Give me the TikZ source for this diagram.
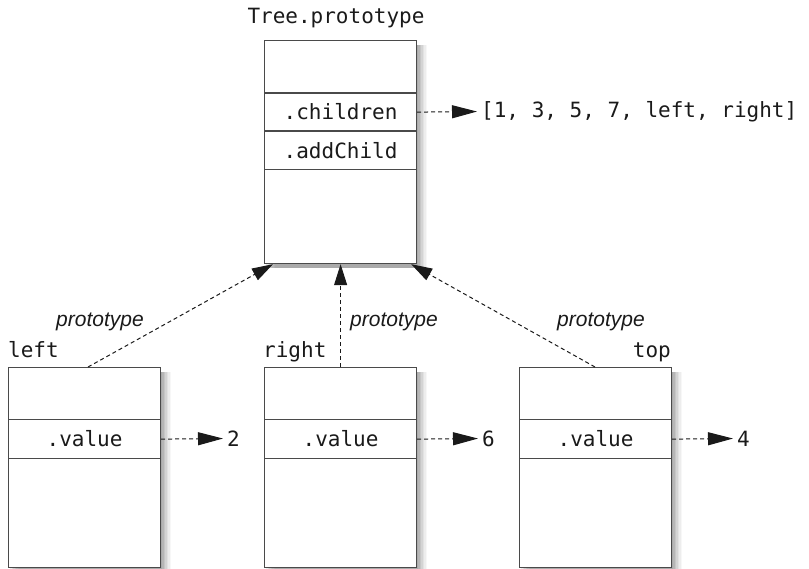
\documentclass[tikz,border=0pt]{standalone}
\usepackage{fontspec}
\setmainfont{Liberation Sans}
\setmonofont{DejaVu Sans Mono}
\usetikzlibrary{arrows.meta,calc,shadows}
\definecolor{linec}{HTML}{4A4A4A}
\definecolor{txtc}{HTML}{1A1A1A}
\tikzset{
  softshadow/.style={
    general shadow={fill=black,opacity=.07,shadow xshift=1.5pt,shadow yshift=-4pt},
    general shadow={fill=black,opacity=.07,shadow xshift=3pt,shadow yshift=-4pt},
    general shadow={fill=black,opacity=.07,shadow xshift=4.5pt,shadow yshift=-4pt},
    general shadow={fill=black,opacity=.06,shadow xshift=6pt,shadow yshift=-4pt},
    general shadow={fill=black,opacity=.05,shadow xshift=7.5pt,shadow yshift=-4pt},
    general shadow={fill=black,opacity=.04,shadow xshift=9pt,shadow yshift=-4pt},
    general shadow={fill=black,opacity=.03,shadow xshift=10.5pt,shadow yshift=-4pt}},
  objbox/.style={draw=linec, line width=1.2pt, fill=white, minimum width=152pt,
    inner sep=0pt, anchor=north west, softshadow},
  rowbox/.style={draw=linec, line width=1.2pt, minimum width=152pt, inner sep=0pt,
    anchor=north west, font=\fontsize{21}{25}\selectfont\ttfamily, text=txtc},
  mono/.style={inner sep=0pt, font=\fontsize{21}{25}\selectfont\ttfamily, text=txtc},
  protolbl/.style={inner sep=0pt, font=\fontsize{21}{25}\selectfont\itshape, text=txtc},
  valarrow/.style={draw=txtc, line width=1pt, dash pattern=on 4pt off 3pt,
    -{Triangle[length=25pt,width=13pt]}, shorten >=4pt},
  protoarrow/.style={draw=txtc, line width=1pt, dash pattern=on 4pt off 3pt,
    -{Triangle[length=21pt,width=13pt]}}
}
\begin{document}
\begin{tikzpicture}[x=1pt,y=-1pt]
\useasboundingbox (0,0) rectangle (809,569);

% Tree.prototype
\node[mono] (tlabel) at (336,18) {Tree.prototype};
\node[objbox, minimum height=223pt] (tree) at (264,40) {};
\node[rowbox, minimum height=38pt] (tchildren) at (264,92.5) {.children};
\node[rowbox, minimum height=38.5pt] (taddchild) at (264,130.5) {.addChild};
\node[mono, anchor=west] (tarr) at (481,111.5) {[1, 3, 5, 7, left, right]};
\draw[valarrow] (tchildren.east) -- (tarr.west);

% left
\node[objbox, minimum height=200pt] (lbox) at (8,367) {};
\node[rowbox, minimum height=39pt] (lval) at (8,419) {.value};
\node[mono, anchor=base west] (lname) at (8,358) {left};
\node[mono, anchor=west] (lnum) at (227,438.5) {2};
\draw[valarrow] (lval.east) -- (lnum.west);

% right
\node[objbox, minimum height=200pt] (rbox) at (264,367) {};
\node[rowbox, minimum height=39pt] (rval) at (264,419) {.value};
\node[mono, anchor=base west] (rname) at (263,358) {right};
\node[mono, anchor=west] (rnum) at (482,438.5) {6};
\draw[valarrow] (rval.east) -- (rnum.west);

% top
\node[objbox, minimum height=200pt] (tbox) at (519,367) {};
\node[rowbox, minimum height=39pt] (tval) at (519,419) {.value};
\node[mono, anchor=base east] (tname) at (671,358) {top};
\node[mono, anchor=west] (tnum) at (737,438.5) {4};
\draw[valarrow] (tval.east) -- (tnum.west);

% prototype links
\draw[protoarrow] ($(lbox.north west)+(80,0)$) -- ($(tree.south west)+(9,0)$);
\draw[protoarrow] (rbox.north -| tree.south) -- (tree.south);
\draw[protoarrow] ($(tbox.north west)+(76,0)$) -- ($(tree.south east)+(-6,0)$);

\node[protolbl] (p1) at (100,322) {prototype};
\node[protolbl] (p2) at (394,322) {prototype};
\node[protolbl] (p3) at (601,322) {prototype};
\end{tikzpicture}
\end{document}
